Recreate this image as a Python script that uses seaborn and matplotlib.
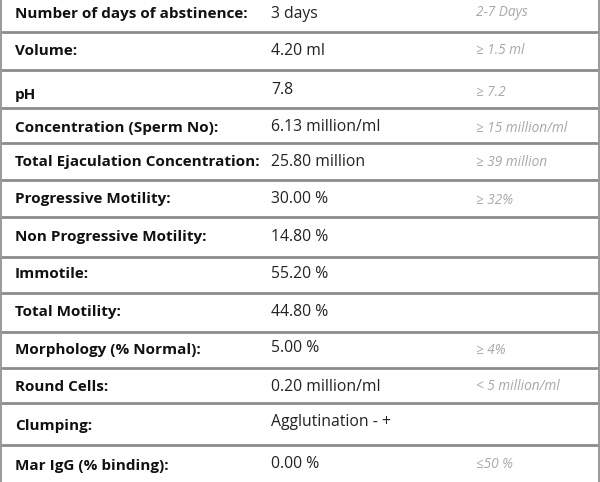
import matplotlib
matplotlib.use("Agg")
import matplotlib.pyplot as plt
import seaborn as sns

# --- Data ---
labels = [
    "Number of days of abstinence:", "Volume:", "pH", "Concentration (Sperm No):",
    "Total Ejaculation Concentration:", "Progressive Motility:", "Non Progressive Motility:",
    "Immotile:", "Total Motility:", "Morphology (% Normal):", "Round Cells:",
    "Clumping:", "Mar IgG (% binding):",
]
values = [
    "3 days", "4.20 ml", "7.8", "6.13 million/ml", "25.80 million", "30.00 %",
    "14.80 %", "55.20 %", "44.80 %", "5.00 %", "0.20 million/ml",
    "Agglutination - +", "0.00 %",
]
refs = [
    "2-7 Days", "≥ 1.5 ml", "≥ 7.2", "≥ 15 million/ml", "≥ 39 million", "≥ 32%",
    "", "", "", "≥ 4%", "< 5 million/ml", "", "≤50 %",
]

# --- Layout (pixel space) ---
label_y = [14, 51, 95, 128, 162, 199, 237, 274, 312, 350, 387, 426, 466]
value_y = [14, 51, 90, 127, 162, 199, 237, 274, 312, 348, 387, 422, 464]
ref_y = [13, 50, 92, 128, 162, 200, 237, 274, 312, 350, 387, 422, 464]
separators = [32, 70, 108, 143, 180, 217, 257, 293, 332, 368, 403, 445]

sns.set_style("white")
plt.rcParams['font.family'] = ['Open Sans', 'DejaVu Sans']

fig = plt.figure(figsize=(6, 4.82), dpi=100)
ax = fig.add_axes([0, 0, 1, 1])
ax.set_xlim(0, 600)
ax.set_ylim(482, 0)
ax.axis("off")

ax.hlines(separators, 0, 600, color="#8c8c8c", linewidth=2)
ax.vlines([0.7, 599.3], 0, 482, color="#9a9a9a", linewidth=1.4)

for lab, val, ref, ly, vy, ry in zip(labels, values, refs, label_y, value_y, ref_y):
    ax.text(15, ly, lab, fontsize=11, fontweight="bold", color="#111111", va="center")
    ax.text(271, vy, val, fontsize=11.3, color="#222222", va="center")
    if ref:
        ax.text(476, ry, ref, fontsize=9.8, style="italic", color="#a8a8a8", va="center")

fig.savefig("out.png", dpi=100)
